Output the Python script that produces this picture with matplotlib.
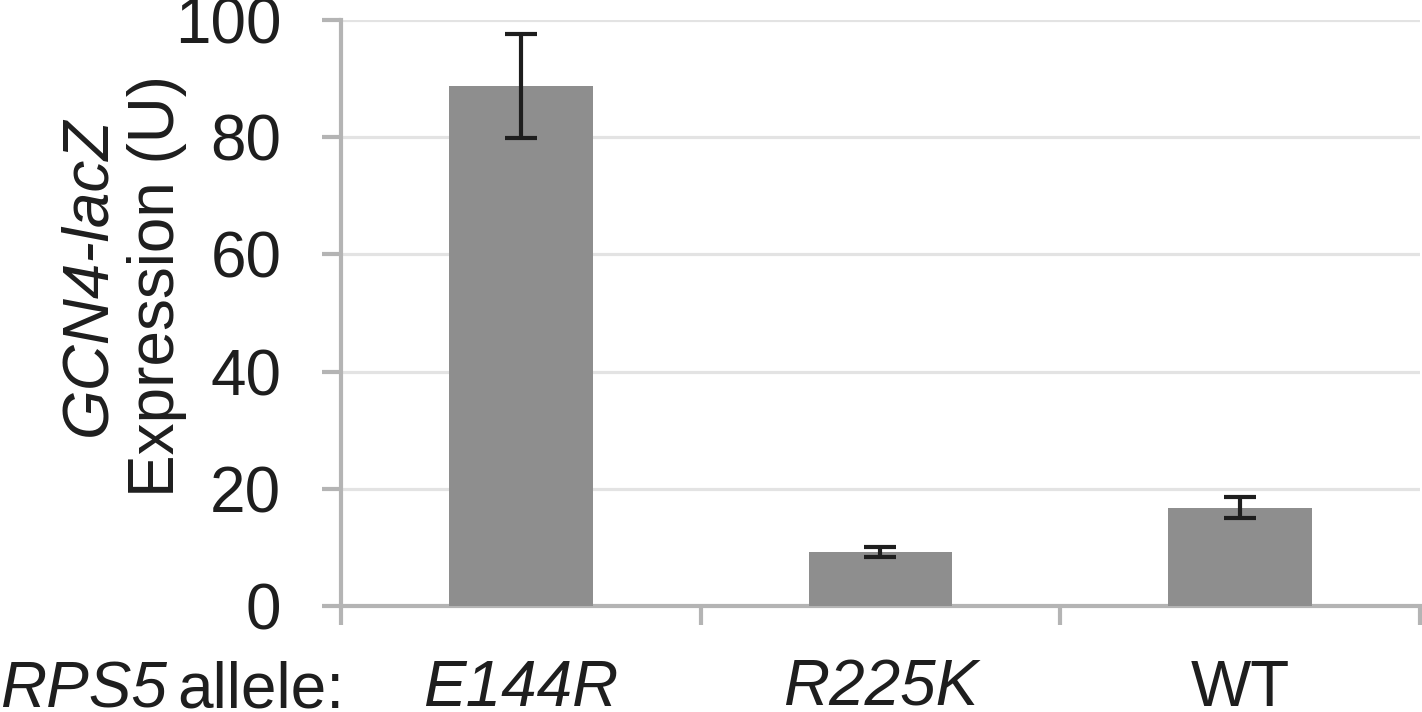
import matplotlib
matplotlib.use("Agg")
import matplotlib.pyplot as plt

categories = ["E144R", "R225K", "WT"]
values = [88.7, 9.2, 16.8]
errors = [8.9, 0.8, 1.85]
italic_cats = [True, True, False]
yticks = [0, 20, 40, 60, 80, 100]

plt.rcParams['font.family'] = ['Liberation Sans', 'DejaVu Sans']
TXT = '#1e1e1e'
FS = 46

fig = plt.figure(figsize=(14.22, 7.12), dpi=100)
ax = fig.add_axes([341/1422, 1 - 606/712, (1420-341)/1422, (606-20)/712])

x = list(range(len(categories)))
ax.bar(x, values, width=0.4, color='#8e8e8e', zorder=3)
ax.errorbar(x, values, yerr=errors, fmt='none', ecolor='#1e1e1e',
            elinewidth=3, capsize=11.5, capthick=3, zorder=4)

ax.set_xlim(-0.5, len(categories) - 0.5)
ax.set_ylim(0, 100)
ax.set_yticks(yticks)
ax.set_yticklabels([str(v) for v in yticks], fontsize=FS, color=TXT)
ax.yaxis.grid(True, color='#e3e3e3', lw=2.3, zorder=0)
ax.set_axisbelow(True)

ax.set_xticks(x)
ax.set_xticklabels(categories, fontsize=FS, color=TXT)
for lbl, it in zip(ax.get_xticklabels(), italic_cats):
    lbl.set_fontstyle('italic' if it else 'normal')
ax.set_xticks([i - 0.5 for i in range(len(categories) + 1)], minor=True)
ax.tick_params(axis='x', which='major', length=0, pad=38)
ax.tick_params(axis='x', which='minor', length=14, width=3, color='#b4b4b4', direction='out')
ax.tick_params(axis='y', length=14, width=3, color='#b4b4b4', pad=29)

for s in ['top', 'right']:
    ax.spines[s].set_visible(False)
for s in ['left', 'bottom']:
    ax.spines[s].set_color('#b4b4b4')
    ax.spines[s].set_linewidth(3)

# y label (two lines)
fig.text(88/1422, 1 - 276/712, "GCN4-lacZ", rotation=90, ha='center', va='center',
         fontsize=FS, fontstyle='italic', color=TXT)
fig.text(157/1422, 1 - 286/712, "Expression (U)", rotation=90, ha='center', va='center',
         fontsize=FS, color=TXT)

# x axis caption
fig.text(0/1422, 1 - 708/712, "RPS5", ha='left', va='baseline', fontsize=FS,
         fontstyle='italic', color=TXT)
fig.text(177/1422, 1 - 708/712, "allele:", ha='left', va='baseline', fontsize=FS, color=TXT)

fig.savefig("out.png", dpi=100)
